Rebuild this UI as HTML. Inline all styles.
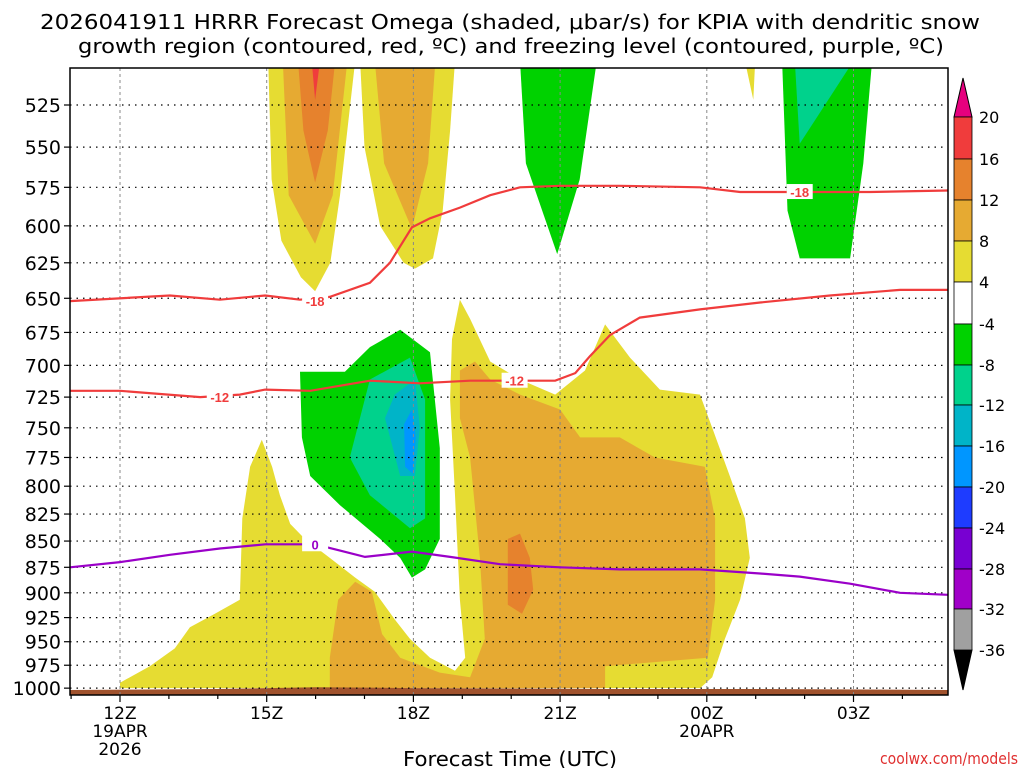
<!DOCTYPE html>
<html><head><meta charset="utf-8"><style>
body{margin:0;background:#fff;}
svg{display:block;font-family:"Liberation Sans","DejaVu Sans",sans-serif;}
</style></head><body>
<svg id="chart" width="1024" height="768" viewBox="0 0 1024 768" xmlns="http://www.w3.org/2000/svg">
<rect width="1024" height="768" fill="#fff"/>
<text x="40" y="29" font-size="20" textLength="940" lengthAdjust="spacingAndGlyphs" fill="#000" style="font-family:'DejaVu Sans',sans-serif">2026041911 HRRR Forecast Omega (shaded, μbar/s) for KPIA with dendritic snow</text>
<text x="78" y="53" font-size="20" textLength="866" lengthAdjust="spacingAndGlyphs" fill="#000" style="font-family:'DejaVu Sans',sans-serif">growth region (contoured, red, ºC) and freezing level (contoured, purple, ºC)</text>
<defs><clipPath id="pc"><rect x="70" y="68" width="878" height="627"/></clipPath></defs>
<g id="fills" clip-path="url(#pc)"></g>
<g id="grid"></g>
<g id="lines" clip-path="url(#pc)"></g>
<g id="axes"></g>
<g id="cbar"></g>
<text x="403" y="766" font-size="20" textLength="214" lengthAdjust="spacingAndGlyphs" style="font-family:'DejaVu Sans',sans-serif">Forecast Time (UTC)</text>
<text x="880" y="764" font-size="16" textLength="138" lengthAdjust="spacingAndGlyphs" fill="#e03030" style="font-family:'DejaVu Sans',sans-serif">coolwx.com/models</text>
</svg>
<script>
// axis: hours (12 = 12Z 19APR, 24 = 00Z 20APR), pressure hPa
const pLevels=[525,550,575,600,625,650,675,700,725,750,775,800,825,850,875,900,925,950,975,1000];
const hourTicks=[12,15,18,21,24,27];
const hourLabels=["12Z","15Z","18Z","21Z","00Z","03Z"];
const dateLabels=["19APR\n2026","","","","20APR",""];
const cbarLevels=[20,16,12,8,4,-4,-8,-12,-16,-20,-24,-28,-32,-36];
const cbarColors=["#f03c3c","#e6822d","#e6aa32","#e6dc32","#ffffff","#00d200","#00d28c","#00b4c8","#0096ff","#1e3cff","#7800d2","#a000c8","#a0a0a0"];
// shaded omega regions [hour, hPa]
const yellowUpperLeft=[[15.03,500],[15.1,570],[15.3,610],[15.7,635],[15.99,645],[16.3,625],[16.5,580],[16.81,500]];
const lightOrangeUpperLeft=[[15.33,500],[15.45,580],[15.99,612],[16.35,580],[16.65,500]];
const orangeUpperLeft=[[15.64,500],[15.75,540],[15.99,572],[16.25,540],[16.4,500]];
const redUpperLeft=[[15.92,500],[15.99,522],[16.09,500]];
const yellowUpperMid=[[16.91,500],[17.0,550],[17.32,600],[17.8,625],[18.03,629],[18.4,622],[18.6,590],[18.75,540],[18.85,500]];
const lightOrangeUpperMid=[[17.21,500],[17.4,560],[17.97,602],[18.3,560],[18.45,500]];
const greenUpper=[[20.18,500],[20.3,560],[20.94,619],[21.4,570],[21.75,500]];
const yellowSmall=[[24.78,500],[24.95,522],[24.99,500]];
const greenRight=[[25.54,500],[25.65,590],[25.9,622],[26.93,622],[27.2,560],[27.38,500]];
const tealRight=[[25.8,500],[25.9,548],[26.3,530],[27.0,500]];
const yellowLower=[[12,994],[12.61,976],[13.12,957],[13.43,935],[13.94,921],[14.45,907],[14.5,829],[14.66,783],[14.9,760],[15.11,783],[15.27,808],[15.48,834],[15.78,848],[16.29,866],[16.81,885],[17.21,899],[17.62,927],[17.93,947],[18.34,967],[18.85,981],[19.06,967],[18.95,907],[18.85,808],[18.75,727],[18.79,680],[18.95,651],[19.16,665],[19.57,697],[20.18,711],[20.9,723],[21.51,704],[21.92,669],[22.43,694],[23.04,719],[23.86,723],[24.11,750],[24.47,791],[24.78,829],[24.88,866],[24.68,907],[24.37,947],[24.11,988],[23.86,1000],[12,1000]];
const lightOrangeLower=[[18.95,704],[19.26,697],[19.57,711],[20.18,723],[21,735],[21.41,758],[22.22,758],[22.94,775],[23.96,783],[24.17,829],[24.17,907],[24.02,967],[21.92,976],[21.92,1000],[16.29,1000],[16.29,967],[16.46,907],[16.81,889],[17.15,899],[17.36,942],[17.73,967],[18.54,983],[19.16,988],[19.46,947],[19.36,866],[19.16,775],[18.95,742]];
const orangeLower=[[19.93,848],[20.18,843],[20.38,866],[20.45,897],[20.22,921],[19.93,912]];
const greenLower=[[15.68,705],[16.6,705],[17.11,686],[17.73,673],[18.34,690],[18.54,767],[18.54,848],[18.24,877],[17.97,885],[17.73,866],[17.32,848],[16.5,817],[15.89,791],[15.72,758]];
const tealLower=[[16.7,775],[17.11,711],[17.93,694],[18.24,727],[18.24,829],[17.93,838],[17.11,808]];
const cyanLower=[[17.42,742],[17.62,723],[18.03,711],[18.13,750],[18.03,791],[17.73,791]];
const blueLower=[[17.81,747],[17.97,735],[18.05,758],[17.99,789],[17.83,783]];
const ground=[[10.9,1002],[14,1001],[16,999],[18,1000],[22,1001],[25,1001],[29,1002]];
// contour lines
const hoursA=[10.98,13.02,14.04,14.97,15.68,16.29,17.11,17.52,17.97,18.34,18.95,19.57,20.18,21,22.22,23.86,24.68,25.9,27.34,28.93];
const minus18=[652,648,651,648,651,649,639,625,601,595,588,580,575,574,574,575,578,578,578,577];
const hoursB=[10.98,12,13.64,14.45,14.97,15.89,17.11,18.13,19.16,20.18,20.9,21.31,21.61,22.02,22.63,23.86,25.09,26.52,27.95,28.93];
const minus12=[720,720,725,723,719,720,712,714,712,712,712,706,693,677,664,658,653,648,644,644];
const hoursC=[10.98,12,13.02,14.04,14.97,15.99,16.5,17.01,17.97,18.75,19.77,21,22.22,23.86,25.09,25.9,26.93,27.95,28.93];
const zeroLine=[875,870,863,857,853,853,859,865,860,865,872,875,877,877,881,884,891,900,902];
const contourLabels=[["-18",15.99,652,"#f03c3c"],["-18",25.9,578,"#f03c3c"],["-12",14.04,725,"#f03c3c"],["-12",20.07,712,"#f03c3c"],["0",15.99,853,"#9a00c8"]];

const X=h=>120+(h-12)*48.9;
const Y=p=>105+905*Math.log(p/525);
const NS="http://www.w3.org/2000/svg";
function mk(tag,attrs,parent){const e=document.createElementNS(NS,tag);for(const k in attrs)e.setAttribute(k,attrs[k]);parent.appendChild(e);return e;}
const fills=document.getElementById('fills');
function poly(arr,color,name){
  const e=mk('polygon',{points:arr.map(d=>X(d[0]).toFixed(1)+','+Y(d[1]).toFixed(1)).join(' '),fill:color},fills);
  
  
}
poly(yellowUpperLeft,"#e6dc32","omega-4-8-upper-left");
poly(lightOrangeUpperLeft,"#e6aa32","omega-8-12-upper-left");
poly(orangeUpperLeft,"#e6822d","omega-12-16-upper-left");
poly(redUpperLeft,"#f03c3c","omega-16-20-upper-left");
poly(yellowUpperMid,"#e6dc32","omega-4-8-upper-mid");
poly(lightOrangeUpperMid,"#e6aa32","omega-8-12-upper-mid");
poly(greenUpper,"#00d200","omega-neg-upper-mid");
poly(yellowSmall,"#e6dc32","omega-4-8-small");
poly(greenRight,"#00d200","omega-neg-upper-right");
poly(tealRight,"#00d28c","omega-neg8-upper-right");
poly(yellowLower,"#e6dc32","omega-4-8-lower");
poly(lightOrangeLower,"#e6aa32","omega-8-12-lower");
poly(orangeLower,"#e6822d","omega-12-16-lower");
poly(greenLower,"#00d200","omega-neg4-lower");
poly(tealLower,"#00d28c","omega-neg8-lower");
poly(cyanLower,"#00b4c8","omega-neg12-lower");
poly(blueLower,"#0096ff","omega-neg16-lower");
{const g=ground.map(d=>[d[0],d[1]]).concat([[29,1020],[10.9,1020]]);
 const e=mk('polygon',{points:g.map(d=>X(d[0]).toFixed(1)+','+(Y(d[1])).toFixed(1)).join(' '),fill:"#a0522d"},fills);
 
 }

const grid=document.getElementById('grid');
pLevels.forEach(p=>{const l=mk('line',{x1:70,x2:948,y1:Y(p),y2:Y(p),stroke:"#000","stroke-width":1.2,"stroke-dasharray":"1.5,5"},grid);
 
 });
hourTicks.forEach(h=>{const l=mk('line',{x1:X(h),x2:X(h),y1:68,y2:695,stroke:"#888","stroke-width":1,"stroke-dasharray":"3,3"},grid);
 
 });

const lines=document.getElementById('lines');
function pl(hs,ps,color,name){
  const e=mk('polyline',{points:hs.map((h,i)=>X(h).toFixed(1)+','+Y(ps[i]).toFixed(1)).join(' '),fill:"none",stroke:color,"stroke-width":2.2},lines);
  
  
}
pl(hoursA,minus18,"#f03c3c","contour-minus18");
pl(hoursB,minus12,"#f03c3c","contour-minus12");
pl(hoursC,zeroLine,"#9a00c8","freezing-level-0");
contourLabels.forEach(c=>{
  const r=mk('rect',{x:X(c[1])-13,y:Y(c[2])-8,width:26,height:15,fill:"#fff"},lines);
  
  
  const t=mk('text',{x:X(c[1]),y:Y(c[2])+5,"font-size":13,"font-weight":"bold","text-anchor":"middle",fill:c[3]},lines);
  t.textContent=c[0];
  
  
});

const axes=document.getElementById('axes');
{const r=mk('rect',{x:70,y:68,width:878,height:627,fill:"none",stroke:"#000","stroke-width":1.5},axes);
 
 }
pLevels.forEach(p=>{
  const l=mk('line',{x1:64,x2:70,y1:Y(p),y2:Y(p),stroke:"#000","stroke-width":1.2},axes);
  
  
  const t=mk('text',{x:61,y:Y(p)+7,"font-size":19,"text-anchor":"end",style:"font-family:'DejaVu Sans',sans-serif"},axes);
  t.textContent=p;
  
  
});
for(let h=11;h<=28;h++){const l=mk('line',{x1:X(h),x2:X(h),y1:695,y2:h%3===0?702:699,stroke:"#000","stroke-width":1.2},axes);
 
 }
hourTicks.forEach((h,i)=>{
  const t=mk('text',{x:X(h),y:719,"font-size":17,"text-anchor":"middle",style:"font-family:'DejaVu Sans',sans-serif"},axes);
  t.textContent=hourLabels[i];
  
  
  dateLabels[i].split("\n").forEach((s,j)=>{if(!s)return;
    const d=mk('text',{x:X(h),y:737+j*18,"font-size":17,"text-anchor":"middle",style:"font-family:'DejaVu Sans',sans-serif"},axes);
    d.textContent=s;
    
    });
});

const cb=document.getElementById('cbar');
const cy=[117,159,200,241,282,324,365,405,446,487,528,569,609,650];
{const t=mk('polygon',{points:"954,117 972,117 963,78",fill:"#e6007e",stroke:"#000"},cb);
 
 
 const b=mk('polygon',{points:"954,650 972,650 963,690",fill:"#000",stroke:"#000"},cb);
 
 }
cbarColors.forEach((c,i)=>{const r=mk('rect',{x:954,y:cy[i],width:18,height:cy[i+1]-cy[i],fill:c,stroke:"#000","stroke-width":0.8},cb);
 
 });
cbarLevels.forEach((v,i)=>{const t=mk('text',{x:979,y:cy[i]+6,"font-size":16,style:"font-family:'DejaVu Sans',sans-serif"},cb);
 t.textContent=v;
 
 });
</script>
</body></html>
